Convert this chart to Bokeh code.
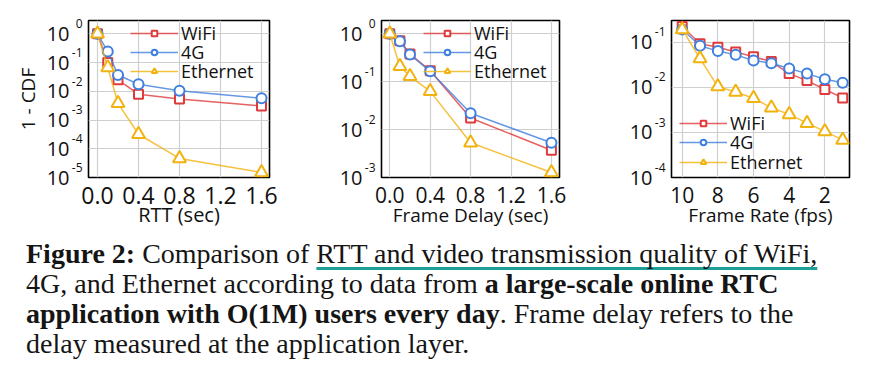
from bokeh.plotting import figure
from bokeh.layouts import column, row
from bokeh.models import (Range1d, FixedTicker, CustomJSTickFormatter, PrintfTickFormatter,
                          Div, Legend, LegendItem, LogAxis)
from bokeh.embed import file_html
from bokeh.resources import INLINE

# ---------------- data ----------------
series_names = ["WiFi", "4G", "Ethernet"]

rtt_x = [0.0, 0.1, 0.2, 0.4, 0.8, 1.6]
rtt_wifi = [1.0, 0.10, 0.025, 0.0079, 0.0054, 0.0031]
rtt_4g = [1.0, 0.24, 0.037, 0.0175, 0.0105, 0.0057]
rtt_eth = [1.0, 0.067, 0.0038, 0.00032, 0.000046, 0.000015]

fd_x = [0.0, 0.1, 0.2, 0.4, 0.8, 1.6]
fd_wifi = [1.0, 0.72, 0.38, 0.17, 0.0175, 0.0037]
fd_4g = [1.0, 0.70, 0.37, 0.165, 0.022, 0.0053]
fd_eth = [1.0, 0.21, 0.13, 0.063, 0.0053, 0.00127]

fr_x = [10, 9, 8, 7, 6, 5, 4, 3, 2, 1]
fr_wifi = [0.22, 0.092, 0.077, 0.060, 0.047, 0.037, 0.020, 0.014, 0.0089, 0.0058]
fr_4g = [0.19, 0.083, 0.063, 0.052, 0.039, 0.034, 0.026, 0.020, 0.015, 0.0125]
fr_eth = [0.19, 0.043, 0.0103, 0.0078, 0.0057, 0.0035, 0.0025, 0.0016, 0.00105, 0.00068]

rtt_yticks = [1e-5, 1e-4, 1e-3, 1e-2, 1e-1, 1]
fd_yticks = [1e-3, 1e-2, 1e-1, 1]
fr_yticks = [1e-4, 1e-3, 1e-2, 1e-1]
delay_ticks = [0.0, 0.4, 0.8, 1.2, 1.6]
fps_ticks = [10, 8, 6, 4, 2]

colors = ["#e03a3a", "#3f7fe0", "#f2b20f"]
markers = ["square", "circle", "triangle"]
msizes = [9, 10, 13]

FONT = "Open Sans"

# exponent of each decade, raised by a trailing empty line
exp_js = "const e = Math.round(Math.log10(tick)); return String(e) + '\\n';"


def style_axis(ax):
    ax.axis_line_color = None
    ax.major_tick_line_color = None
    ax.minor_tick_line_color = None
    ax.major_label_text_font = FONT
    ax.major_label_text_color = "#111111"
    ax.axis_label_text_font = FONT
    ax.axis_label_text_font_style = "normal"
    ax.axis_label_text_color = "#111111"


def make_fig(xr, yr, yticks, xticks, xfmt, fw, left, xlabel, xtick_fs, xlab_fs,
             xlab_standoff, ylabel=None, ylab_fs="19px"):
    p = figure(frame_width=fw, frame_height=157, x_range=xr, y_range=yr,
               y_axis_type="log", output_backend="svg", toolbar_location=None,
               min_border_left=left, min_border_right=29, min_border_top=20,
               min_border_bottom=70)
    p.background_fill_color = "white"
    p.border_fill_color = "white"
    p.outline_line_color = "black"
    p.outline_line_width = 1.6

    # inner y axis: exponents
    exp_ax = p.yaxis[0]
    exp_ax.ticker = FixedTicker(ticks=yticks, minor_ticks=[])
    exp_ax.formatter = CustomJSTickFormatter(code=exp_js)
    style_axis(exp_ax)
    exp_ax.major_label_text_font_size = "12px"
    exp_ax.major_label_standoff = 0

    # outer y axis: mantissa "10" (+ axis title)
    man_ax = LogAxis(ticker=FixedTicker(ticks=yticks, minor_ticks=[]),
                     formatter=CustomJSTickFormatter(code="return '10';"))
    style_axis(man_ax)
    man_ax.major_label_text_font_size = "20px"
    man_ax.major_label_standoff = -7
    if ylabel:
        man_ax.axis_label = ylabel
        man_ax.axis_label_text_font_size = ylab_fs
        man_ax.axis_label_standoff = 3
    p.add_layout(man_ax, "left")

    xax = p.xaxis[0]
    xax.ticker = FixedTicker(ticks=xticks, minor_ticks=[])
    xax.formatter = xfmt
    style_axis(xax)
    xax.major_label_text_font_size = xtick_fs
    xax.axis_label_text_font_size = xlab_fs
    xax.major_label_standoff = 3
    xax.axis_label = xlabel
    xax.axis_label_standoff = xlab_standoff

    p.xgrid.ticker = FixedTicker(ticks=xticks, minor_ticks=[])
    p.ygrid.ticker = FixedTicker(ticks=yticks, minor_ticks=[])
    p.grid.grid_line_color = "#cfcfcf"
    p.grid.grid_line_width = 1.2
    return p


def add_series(p, x, ys, legend_x, legend_ys):
    for name, y, c, m, s, ly in zip(series_names, ys, colors, markers, msizes, legend_ys):
        ln = p.line(x, y, line_color=c, line_width=1.5, line_alpha=0.8)
        sc = p.scatter(x, y, marker=m, size=s, line_color=c, fill_color="white",
                       line_width=2)
        lg = Legend(items=[LegendItem(label=name, renderers=[ln, sc])],
                    location=(legend_x, ly))
        lg.background_fill_alpha = 0
        lg.border_line_color = None
        lg.padding = 0
        lg.margin = 0
        lg.spacing = 0
        lg.glyph_width = 48
        lg.glyph_height = 14
        lg.label_height = 14
        lg.label_standoff = 3
        lg.label_text_font = FONT
        lg.label_text_font_size = "18px"
        lg.label_text_color = "#111111"
        p.add_layout(lg, "center")


p1 = make_fig(Range1d(-0.088, 1.678), Range1d(1e-5, 2.9), rtt_yticks, delay_ticks,
              PrintfTickFormatter(format="%.1f"), 181, 88, "RTT (sec)",
              "23px", "20px", -6, "1 - CDF", "19px")
add_series(p1, rtt_x, [rtt_wifi, rtt_4g, rtt_eth], 42, [132, 113, 94])

p2 = make_fig(Range1d(-0.082, 1.68), Range1d(1e-3, 1.9), fd_yticks, delay_ticks,
              PrintfTickFormatter(format="%.1f"), 178, 83, "Frame Delay (sec)",
              "21px", "19px", -4)
add_series(p2, fd_x, [fd_wifi, fd_4g, fd_eth], 42, [132, 113, 94])

p3 = make_fig(Range1d(10.6, 0.617), Range1d(1e-4, 0.30), fr_yticks, fps_ticks,
              PrintfTickFormatter(format="%d"), 178, 83, "Frame Rate (fps)",
              "21px", "19px", -4)
add_series(p3, fr_x, [fr_wifi, fr_4g, fr_eth], 8, [42, 23, 3])

caption_html = (
    "<div style=\"font-family:'Liberation Serif',serif;font-size:28px;line-height:30px;"
    "color:#151515;white-space:nowrap;\">"
    "<b>Figure 2:</b> Comparison of "
    "<span style=\"text-decoration:underline;text-decoration-color:#1f9f98;"
    "text-decoration-thickness:3px;text-underline-offset:4px;"
    "text-decoration-skip-ink:none;\">"
    "RTT and video transmission quality of WiFi,</span><br>"
    "4G, and Ethernet according to data from <b>a large-scale online RTC</b><br>"
    "<b>application with O(1M) users every day</b>. Frame delay refers to the<br>"
    "delay measured at the application layer."
    "</div>"
)
caption = Div(text=caption_html, width=850, margin=(-8, 0, 0, 26))

layout = column(row(p1, p2, p3), caption)

open("out.html", "w").write(file_html(layout, INLINE))
